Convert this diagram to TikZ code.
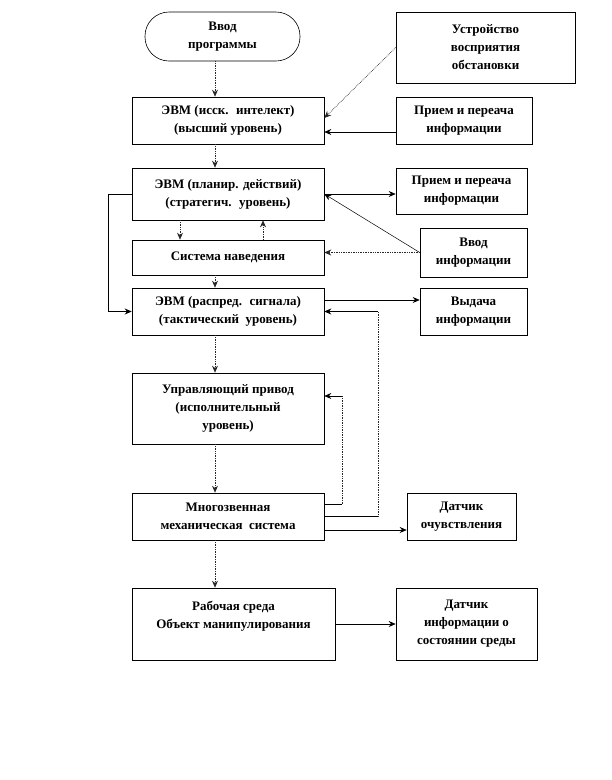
\documentclass[tikz,border=0pt]{standalone}
\usepackage{fontspec}
\setmainfont{Liberation Serif}
\usepackage{tikz}
\usetikzlibrary{arrows.meta, positioning, calc}
\definecolor{linegray}{RGB}{40,40,40}
\tikzset{
  basebox/.style={
    rectangle, draw=black, line width=0.6pt, align=center, inner sep=2pt,
    font=\bfseries\fontsize{13}{18}\selectfont
  },
  mainbox/.style={basebox, minimum width=192pt, minimum height=47pt},
  sidebox/.style={basebox},
  startbox/.style={basebox, rounded corners=24pt, minimum width=155pt, minimum height=49pt},
  arrow/.style={-{Stealth[length=7pt,width=6pt]}, line width=0.7pt},
  dotarrow/.style={arrow, densely dotted, color=linegray},
  thinarrow/.style={arrow, line width=0.5pt},
  plainline/.style={line width=0.7pt},
  dotline/.style={densely dotted, line width=0.7pt, color=linegray}
}
\begin{document}
\begin{tikzpicture}[x=1pt, y=-1pt]
  \useasboundingbox (0,0) rectangle (612,780);

  % main column
  \node[startbox] (start) at (222.5,36.5) {Ввод\\программы};
  \node[mainbox] (evm1) at (228,120.5) {ЭВМ (исск. \ интелект)\\(высший уровень)};
  \node[mainbox, minimum height=52pt] (evm2) at (228,194)
        {ЭВМ (планир. действий)\\(стратегич. \ уровень)};
  \node[mainbox, minimum height=35pt] (guide) at (228,257.5) {Система наведения};
  \node[mainbox] (evm3) at (228,311.5)
        {ЭВМ (распред. \ сигнала)\\(тактический \ уровень)};
  \node[mainbox, minimum height=71pt] (drive) at (228,408.5)
        {Управляющий привод\\(исполнительный\\уровень)};
  \node[mainbox] (mech) at (228,516.5) {Многозвенная\\механическая \ система};
  \node[mainbox, minimum width=203pt, minimum height=72pt] (env) at (233.5,624)
        {Рабочая среда\\Объект манипулирования\\\mbox{}};

  % side boxes
  \node[sidebox, minimum width=179pt, minimum height=71pt] (percep) at (485.5,47.5)
        {Устройство\\восприятия\\обстановки};
  \node[sidebox, minimum width=136pt, minimum height=47pt] (recv1) at (464,120.5)
        {Прием и переача\\информации};
  \node[sidebox, minimum width=131pt, minimum height=46pt] (recv2) at (461.5,191)
        {Прием и переача\\информации};
  \node[sidebox, minimum width=107pt, minimum height=49pt] (ininfo) at (473.5,252.5)
        {Ввод\\информации};
  \node[sidebox, minimum width=107pt, minimum height=47pt] (outinfo) at (473.5,311.5)
        {Выдача\\информации};
  \node[sidebox, minimum width=109pt, minimum height=47pt] (sensor) at (461.5,516.5)
        {Датчик\\очувствления};
  \node[sidebox, minimum width=141pt, minimum height=72pt] (envsensor) at (466.5,624)
        {Датчик\\информации о\\состоянии среды};

  % helper columns
  \coordinate (col) at (215,0);
  \coordinate (dn) at (180,0);
  \coordinate (up) at (263,0);
  \coordinate (lp) at (108,0);
  \coordinate (fbin) at (342,0);
  \coordinate (fbout) at (378,0);

  % main flow down
  \draw[dotarrow] (start.south -| col) -- (evm1.north -| col);
  \draw[dotarrow] (evm1.south -| col) -- (evm2.north -| col);
  \draw[dotarrow] (guide.south -| col) -- (evm3.north -| col);
  \draw[dotarrow] (evm3.south -| col) -- (drive.north -| col);
  \draw[dotarrow] (drive.south -| col) -- (mech.north -| col);
  \draw[dotarrow] (mech.south -| col) -- (env.north -| col);

  % planning <-> guidance
  \draw[dotarrow] (evm2.south -| dn) -- (guide.north -| dn);
  \draw[dotarrow] (guide.north -| up) -- (evm2.south -| up);

  % bypass on the left
  \draw[arrow] (evm2.west) -- (evm2.west -| lp) -- (evm3.west -| lp) -- (evm3.west);

  % inputs on the right
  \draw[dotarrow] (percep.west) -- ([yshift=2.5pt]evm1.east);
  \draw[arrow] ([yshift=-11.5pt]recv1.west) -- ([yshift=-11.5pt]evm1.east);
  \draw[arrow] (evm2.east) -- (evm2.east -| recv2.west);
  \draw[thinarrow] (ininfo.west) -- (evm2.east);
  \draw[dotarrow] (ininfo.west) -- (ininfo.west -| guide.east);
  \coordinate (o1) at ([yshift=11.5pt]evm3.east);
  \draw[arrow] (o1) -- (o1 -| outinfo.west);

  % feedback to tactical level
  \draw[plainline] (mech.east) -- (mech.east -| fbout);
  \draw[dotline] (mech.east -| fbout) -- (evm3.east -| fbout);
  \draw[arrow] (evm3.east -| fbout) -- (evm3.east);

  % feedback to drive
  \coordinate (m1) at ([yshift=12.5pt]mech.east);
  \coordinate (d1) at ([yshift=12.5pt]drive.east);
  \draw[plainline] (m1) -- (m1 -| fbin);
  \draw[dotline] (m1 -| fbin) -- (d1 -| fbin);
  \draw[arrow] (d1 -| fbin) -- (d1);

  % sensors
  \coordinate (m3) at ([yshift=-13.5pt]mech.east);
  \draw[arrow] (m3) -- (m3 -| sensor.west);
  \draw[arrow] (env.east) -- (envsensor.west);
\end{tikzpicture}
\end{document}
